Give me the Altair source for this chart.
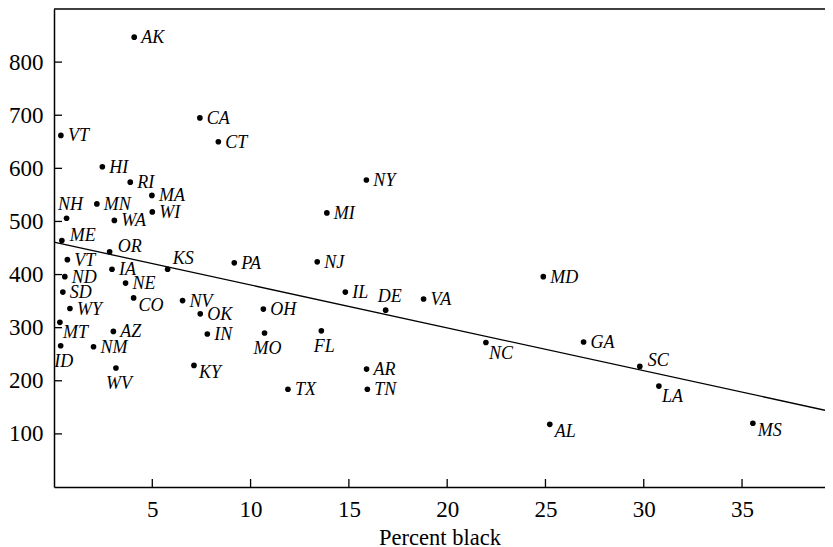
import altair as alt
import pandas as pd

# ---- data ----
states = ["AK", "VT", "CA", "CT", "HI", "RI", "MA", "MN", "WI", "WA",
          "NH", "ME", "OR", "VT", "KS", "PA", "IA", "ND", "NE", "SD",
          "CO", "NV", "WY", "OK", "OH", "MT", "AZ", "IN", "MO", "ID",
          "NM", "WV", "KY", "TX", "AR", "TN", "AL", "SC", "LA", "MS",
          "NY", "MI", "NJ", "MD", "IL", "DE", "VA", "FL", "NC", "GA"]
pct_black = [4.08, 0.35, 7.42, 8.36, 2.46, 3.88, 4.98, 2.18, 5.00, 3.07,
             0.64, 0.40, 2.83, 0.68, 5.78, 9.17, 2.95, 0.55, 3.64, 0.45,
             4.05, 6.54, 0.81, 7.44, 10.65, 0.30, 3.02, 7.80, 10.71, 0.34,
             2.01, 3.15, 7.12, 11.90, 15.90, 15.94, 25.22, 29.80, 30.77, 35.55,
             15.89, 13.88, 13.39, 24.89, 14.82, 16.87, 18.80, 13.60, 21.97, 26.94]
value = [847, 662, 695, 650, 603, 574, 549, 533, 518, 502,
         506, 464, 443, 428, 410, 422, 410, 396, 384, 367,
         356, 351, 336, 326, 335, 310, 293, 288, 290, 266,
         264, 224, 229, 184, 222, 184, 118, 227, 190, 120,
         578, 516, 424, 396, 367, 333, 354, 294, 272, 273]
# label placement code for each state
placement = ["r", "r", "r", "r", "r", "r", "r", "r", "r", "r",
             "a", "ru", "ru", "r", "ru2", "r", "r", "r", "r", "r",
             "rd", "r", "r", "r", "r", "rdd", "r", "r", "b", "b",
             "r", "b", "rd", "r", "r", "r", "rd", "ru", "rdd", "rd",
             "r", "r", "r", "r", "r", "a", "r", "b", "rdd", "r"]

# least-squares line end points (x = 0 and x = right edge of the plot)
fit_x = [0.0, 39.22]
fit_y = [461, 144.5]

x_ticks = [5, 10, 15, 20, 25, 30, 35]
y_ticks = [100, 200, 300, 400, 500, 600, 700, 800]

# ---- styling ----
W, H = 771, 478
FONT = "Liberation Serif"
TICK = 8

label_styles = {
    "r": dict(align="left", dx=7, dy=1),
    "rd": dict(align="left", dx=5, dy=8),
    "rdd": dict(align="left", dx=3, dy=11),
    "ru": dict(align="left", dx=8, dy=-5),
    "ru2": dict(align="left", dx=5, dy=-10),
    "b": dict(align="center", dx=3, dy=16),
    "a": dict(align="center", dx=4, dy=-13),
}

df = pd.DataFrame({"state": states, "pct": pct_black, "val": value, "pos": placement})
fit_df = pd.DataFrame({"pct": fit_x, "val": fit_y})
xt_df = pd.DataFrame({"pct": x_ticks})
yt_df = pd.DataFrame({"val": y_ticks})

x_enc = alt.X(
    "pct:Q",
    scale=alt.Scale(domain=[0, 39.22], nice=False, zero=False),
    axis=alt.Axis(
        values=x_ticks, title="Percent black", ticks=False, grid=False,
        domainColor="black", domainWidth=1.5,
        labelFont=FONT, labelFontSize=23, labelColor="black", labelPadding=11,
        titleFont=FONT, titleFontSize=22.5, titleFontWeight="normal",
        titleColor="black", titleBaseline="alphabetic", titleY=57,
    ),
)
y_enc = alt.Y(
    "val:Q",
    scale=alt.Scale(domain=[0, 900], nice=False, zero=False),
    axis=alt.Axis(
        values=y_ticks, title=None, ticks=False, grid=False,
        domainColor="black", domainWidth=1.5,
        labelFont=FONT, labelFontSize=23, labelColor="black", labelPadding=11,
    ),
)

points = alt.Chart(df).mark_point(
    filled=True, color="black", size=32, opacity=1
).encode(x=x_enc, y=y_enc)

fit = alt.Chart(fit_df).mark_line(color="black", strokeWidth=1.3).encode(
    x="pct:Q", y="val:Q"
)

x_ticks_layer = alt.Chart(xt_df).mark_rule(color="black", strokeWidth=1.3).encode(
    x="pct:Q", y=alt.value(H), y2=alt.value(H - TICK)
)
y_ticks_layer = alt.Chart(yt_df).mark_rule(color="black", strokeWidth=1.3).encode(
    y="val:Q", x=alt.value(0), x2=alt.value(TICK)
)
top_line = alt.Chart(pd.DataFrame({"k": [0]})).mark_rule(
    color="black", strokeWidth=1.5
).encode(x=alt.value(0), x2=alt.value(W), y=alt.value(0))

text_layers = []
for code, st in label_styles.items():
    text_layers.append(
        alt.Chart(df).transform_filter(alt.datum.pos == code).mark_text(
            baseline="middle", font=FONT, fontStyle="italic", fontSize=18,
            color="black", **st
        ).encode(x="pct:Q", y="val:Q", text="state:N")
    )

chart = alt.layer(
    fit, points, x_ticks_layer, y_ticks_layer, top_line, *text_layers
).properties(
    width=W, height=H,
    autosize=alt.AutoSizeParams(type="none"),
    padding={"left": 46, "top": 1, "right": 0, "bottom": 60},
).configure_view(stroke=None)

chart.save("out.html", embed_options={"renderer": "svg", "actions": False})
